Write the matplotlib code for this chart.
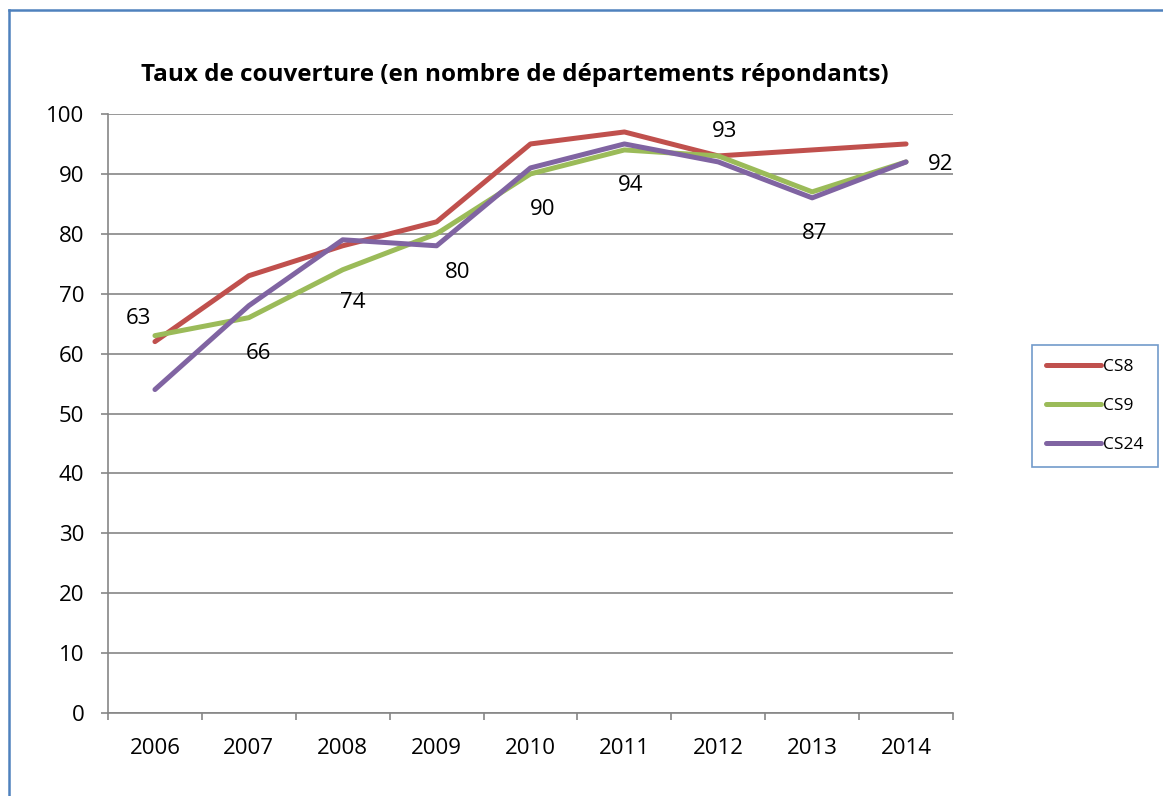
import numpy as np
import matplotlib.pyplot as plt
from matplotlib.lines import Line2D

years = ['2006', '2007', '2008', '2009', '2010', '2011', '2012', '2013', '2014']
cs8 = [62, 73, 78, 82, 95, 97, 93, 94, 95]
cs9 = [63, 66, 74, 80, 90, 94, 93, 87, 92]
cs24 = [54, 68, 79, 78, 91, 95, 92, 86, 92]

# label offsets (pixels) for the CS9 values
lbl_dx = [-17, 10, 10, 21, 12, 6, 6, 2, 35]
lbl_dy = [17, -36, -33, -39, -36, -36, 24, -42, -3]

plt.rcParams['font.family'] = ['Open Sans', 'DejaVu Sans']

fig = plt.figure(figsize=(11.63, 7.96), dpi=100)
ax = fig.add_axes([108 / 1163, 1 - 713 / 796, 845 / 1163, 599 / 796])

x = np.arange(len(years))
ax.plot(x, cs8, color='#C0504D', lw=3.6, solid_capstyle='round', label='CS8', zorder=3)
ax.plot(x, cs9, color='#9BBB59', lw=3.6, solid_capstyle='round', label='CS9', zorder=4)
ax.plot(x, cs24, color='#8064A2', lw=3.6, solid_capstyle='round', label='CS24', zorder=5)

for i, v in enumerate(cs9):
    ax.annotate(str(v), (x[i], v), xytext=(lbl_dx[i], lbl_dy[i]), textcoords='offset pixels',
                ha='center', va='center', fontsize=16, color='black', zorder=6)

ax.set_xlim(-0.5, len(years) - 0.5)
ax.set_ylim(0, 100)
ax.set_yticks(range(0, 101, 10))
ax.set_xticks(x)
ax.set_xticklabels(years)
ax.set_xticks(np.arange(-0.5, len(years), 1), minor=True)
ax.tick_params(axis='x', which='major', length=0, pad=18, labelsize=16)
ax.tick_params(axis='x', which='minor', length=5, width=1.2, color='#868686', direction='out')
ax.tick_params(axis='y', length=5, width=1.2, color='#868686', pad=12, labelsize=16)
ax.grid(axis='y', color='#868686', lw=1.2, zorder=0)
for s in ['top', 'right']:
    ax.spines[s].set_visible(False)
for s in ['left', 'bottom']:
    ax.spines[s].set_color('#868686')
    ax.spines[s].set_linewidth(1.2)

ax.set_title('Taux de couverture (en nombre de départements répondants)',
             fontsize=17.5, fontweight='bold', pad=24, x=(515 - 108) / 845)

handles = [Line2D([0], [0], color=c, lw=3.6, solid_capstyle='round')
           for c in ['#C0504D', '#9BBB59', '#8064A2']]
leg = fig.legend(handles, ['CS8', 'CS9', 'CS24'], loc='center left',
                 bbox_to_anchor=(1032 / 1163, 1 - 406 / 796), fontsize=12.5,
                 frameon=True, fancybox=False, handlelength=3.2, handletextpad=0.1,
                 labelspacing=1.3, borderpad=0.8, borderaxespad=0)
leg.get_frame().set_edgecolor('#4F81BD')
leg.get_frame().set_linewidth(1.2)

# outer border (left and top only visible)
fig.add_artist(Line2D([9 / 1163, 9 / 1163], [0, 1 - 10 / 796], color='#4F81BD', lw=1.8))
fig.add_artist(Line2D([9 / 1163, 1], [1 - 10 / 796, 1 - 10 / 796], color='#4F81BD', lw=1.8))

fig.savefig('out.png', dpi=100)
